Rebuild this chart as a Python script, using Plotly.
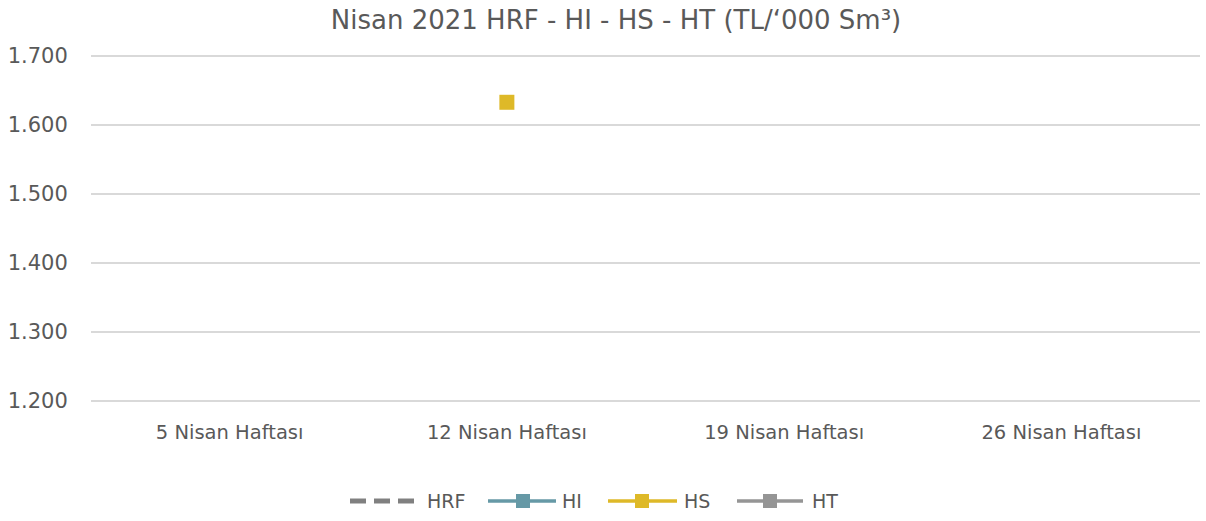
import plotly.graph_objects as go

categories = ["5 Nisan Haftası", "12 Nisan Haftası", "19 Nisan Haftası", "26 Nisan Haftası"]
hrf = [None, None, None, None]
hi = [None, None, None, None]
hs = [None, 1633, None, None]
ht = [None, None, None, None]
y_ticks = [1200, 1300, 1400, 1500, 1600, 1700]
series_names = ["HRF", "HI", "HS", "HT"]
series_colors = ["#808080", "#6699a6", "#deb928", "#959595"]

FONT = "'DejaVu Sans', sans-serif"
GRAY = "#595959"
W, H = 1206, 521
L, R, T, B = 91, 6, 54, 118
PW, PH = W - L - R, H - T - B


def px_x(px):
    return (px - L) / PW


def px_y(py):
    return (H - B - py) / PH


fig = go.Figure()
series = [hrf, hi, hs, ht]
for name, vals, col in zip(series_names, series, series_colors):
    if name == "HRF":
        fig.add_trace(go.Scatter(x=categories, y=vals, name=name, mode="lines",
                                 line=dict(color=col, width=4, dash="dash"), showlegend=False))
    else:
        fig.add_trace(go.Scatter(x=categories, y=vals, name=name, mode="lines+markers",
                                 line=dict(color=col, width=3),
                                 marker=dict(symbol="square", size=15, color=col),
                                 showlegend=False))

# custom legend (bottom centre)
ly = px_y(501)
for x0 in (350, 374, 398):
    fig.add_shape(type="line", xref="paper", yref="paper", x0=px_x(x0), x1=px_x(x0 + 16),
                  y0=ly, y1=ly, line=dict(color=series_colors[0], width=5))
legend_items = [(488, 556, 523, 560), (608, 677, 642, 682), (737, 803, 770, 810)]
for (x0, x1, xm, xt), col in zip(legend_items, series_colors[1:]):
    fig.add_shape(type="line", xref="paper", yref="paper", x0=px_x(x0), x1=px_x(x1),
                  y0=ly, y1=ly, line=dict(color=col, width=3.5))
    fig.add_shape(type="rect", xref="paper", yref="paper", x0=px_x(xm - 7), x1=px_x(xm + 7),
                  y0=px_y(508), y1=px_y(494), line=dict(width=0), fillcolor=col)
text_x = [425, 560, 682, 810]
for name, tx in zip(series_names, text_x):
    fig.add_annotation(text=name, xref="paper", yref="paper", x=px_x(tx), y=ly,
                       xanchor="left", yanchor="middle", showarrow=False,
                       font=dict(family=FONT, size=19, color=GRAY))

fig.update_layout(
    width=W, height=H,
    margin=dict(l=L, r=R, t=T, b=B, autoexpand=False),
    paper_bgcolor="white", plot_bgcolor="white",
    separators=",.",
    title=dict(text="Nisan 2021 HRF - HI - HS - HT (TL/‘000 Sm³)", x=616 / W, xanchor="center",
               xref="container", y=1 - 20 / H, yanchor="middle", yref="container",
               font=dict(family=FONT, size=26, color=GRAY)),
    font=dict(family=FONT, color=GRAY, size=18),
    showlegend=False,
)
fig.update_xaxes(type="category", range=[-0.5, 3.5], showgrid=False, showline=False,
                 ticks="outside", ticklen=12, tickcolor="white", automargin=False,
                 tickfont=dict(family=FONT, size=19.5, color=GRAY))
fig.update_yaxes(range=[1197, 1703], tickvals=y_ticks, tickformat=",d", showgrid=True,
                 gridcolor="#d9d9d9", gridwidth=1.5, zeroline=False, showline=False,
                 ticks="outside", ticklen=18, tickcolor="white", automargin=False,
                 tickfont=dict(family=FONT, size=21, color=GRAY))

fig.write_html("out.html", config={"displayModeBar": False},
               post_script="document.body.style.margin='0';")
